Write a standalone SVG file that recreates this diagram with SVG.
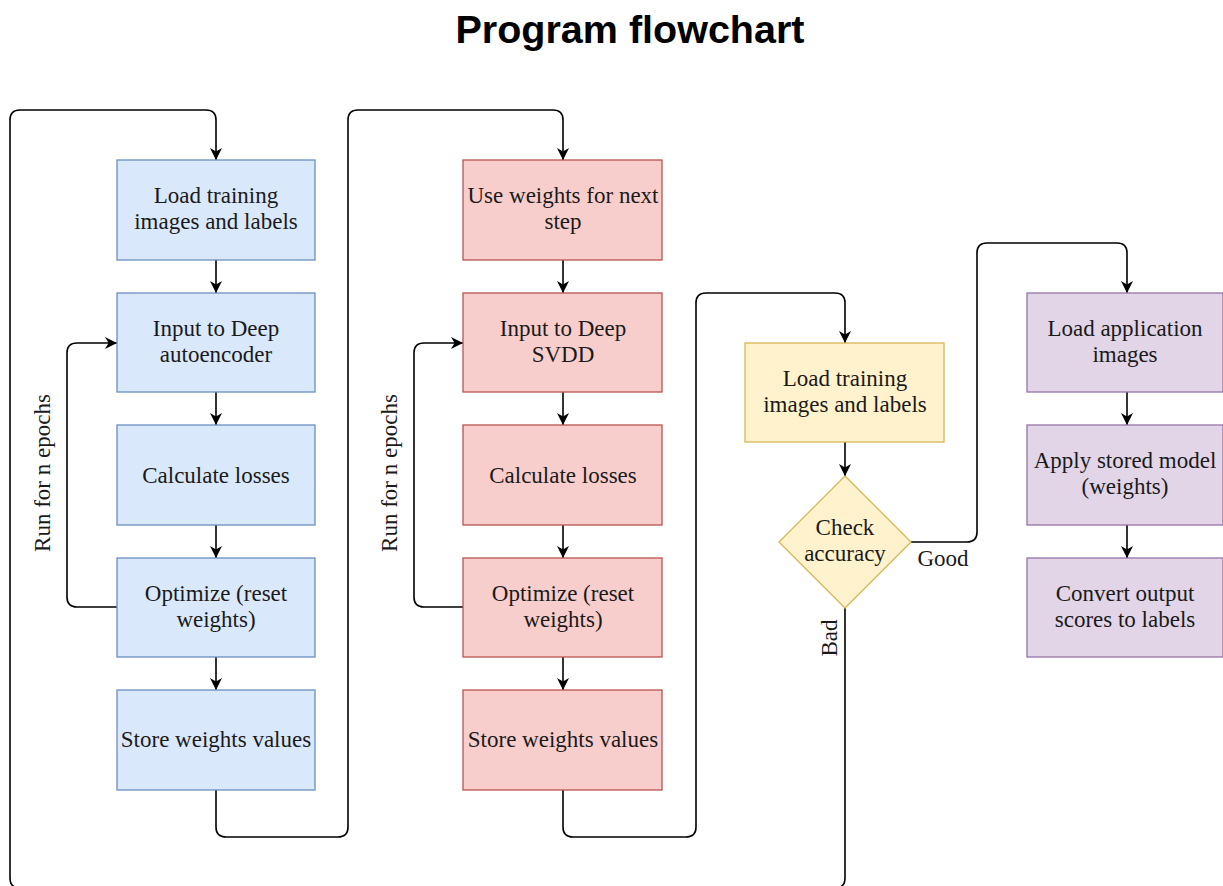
<svg xmlns="http://www.w3.org/2000/svg" width="1223" height="886" viewBox="0 0 1223 886">
<defs>
<style>
.t{font-family:"Liberation Serif",serif;font-size:23px;fill:#1a1a1a;text-anchor:middle}
.title{font-family:"Liberation Sans",Arial,sans-serif;font-size:39.5px;font-weight:bold;fill:#000;text-anchor:middle}
.c{fill:none;stroke:#000;stroke-width:1.6}
.blue{fill:#dae8fc;stroke:#6c8ebf;stroke-width:1.3}
.red{fill:#f8cecc;stroke:#b85450;stroke-width:1.3}
.yel{fill:#fff2cc;stroke:#d6b656;stroke-width:1.3}
.pur{fill:#e1d5e7;stroke:#9673a6;stroke-width:1.3}
</style>
<marker id="a" viewBox="0 0 10 10" refX="10" refY="5" markerWidth="12" markerHeight="12" markerUnits="userSpaceOnUse" orient="auto">
<path d="M0,0 L10,5 L0,10 L3,5 Z" fill="#000"/>
</marker>
</defs>
<rect width="1223" height="886" fill="#fff"/>
<text class="title" x="630" y="43">Program flowchart</text>

<g id="connectors">
<path class="c" marker-end="url(#a)" d="M845,608 V878 Q845,888 835,888 H20 Q10,888 10,878 V120 Q10,110 20,110 H206 Q216,110 216,120 V160"/>
<path class="c" marker-end="url(#a)" d="M216,260 V293"/>
<path class="c" marker-end="url(#a)" d="M216,392 V425"/>
<path class="c" marker-end="url(#a)" d="M216,525 V558"/>
<path class="c" marker-end="url(#a)" d="M216,657 V690"/>
<path class="c" marker-end="url(#a)" d="M117,607 H77 Q67,607 67,597 V353 Q67,343 77,343 H117"/>
<path class="c" marker-end="url(#a)" d="M216,790 V827 Q216,837 226,837 H338 Q348,837 348,827 V120 Q348,110 358,110 H553 Q563,110 563,120 V160"/>
<path class="c" marker-end="url(#a)" d="M563,260 V293"/>
<path class="c" marker-end="url(#a)" d="M563,392 V425"/>
<path class="c" marker-end="url(#a)" d="M563,525 V558"/>
<path class="c" marker-end="url(#a)" d="M563,657 V690"/>
<path class="c" marker-end="url(#a)" d="M463,607 H424 Q414,607 414,597 V353 Q414,343 424,343 H463"/>
<path class="c" marker-end="url(#a)" d="M563,790 V827 Q563,837 573,837 H686 Q696,837 696,827 V303 Q696,293 706,293 H835 Q845,293 845,303 V343"/>
<path class="c" marker-end="url(#a)" d="M845,442 V476"/>
<path class="c" marker-end="url(#a)" d="M911,542 H967 Q977,542 977,532 V253 Q977,243 987,243 H1117 Q1127,243 1127,253 V293"/>
<path class="c" marker-end="url(#a)" d="M1127,392 V425"/>
<path class="c" marker-end="url(#a)" d="M1127,525 V558"/>
<text class="t" x="42" y="481" transform="rotate(-90 42 473)">Run for n epochs</text>
<text class="t" x="389" y="481" transform="rotate(-90 389 473)">Run for n epochs</text>
<text class="t" x="943" y="566">Good</text>
<text class="t" x="829" y="646" transform="rotate(-90 829 638)">Bad</text>
</g>

<g id="b1"><rect class="blue" x="117" y="160" width="198" height="100"/><text class="t" x="216" y="203">Load training</text><text class="t" x="216" y="229">images and labels</text></g>
<g id="b2"><rect class="blue" x="117" y="293" width="198" height="99"/><text class="t" x="216" y="336">Input to Deep</text><text class="t" x="216" y="362">autoencoder</text></g>
<g id="b3"><rect class="blue" x="117" y="425" width="198" height="100"/><text class="t" x="216" y="483">Calculate losses</text></g>
<g id="b4"><rect class="blue" x="117" y="558" width="198" height="99"/><text class="t" x="216" y="601">Optimize (reset</text><text class="t" x="216" y="627">weights)</text></g>
<g id="b5"><rect class="blue" x="117" y="690" width="198" height="100"/><text class="t" x="216" y="747">Store weights values</text></g>

<g id="r1"><rect class="red" x="463" y="160" width="199" height="100"/><text class="t" x="563" y="203">Use weights for next</text><text class="t" x="563" y="229">step</text></g>
<g id="r2"><rect class="red" x="463" y="293" width="199" height="99"/><text class="t" x="563" y="336">Input to Deep</text><text class="t" x="563" y="362">SVDD</text></g>
<g id="r3"><rect class="red" x="463" y="425" width="199" height="100"/><text class="t" x="563" y="483">Calculate losses</text></g>
<g id="r4"><rect class="red" x="463" y="558" width="199" height="99"/><text class="t" x="563" y="601">Optimize (reset</text><text class="t" x="563" y="627">weights)</text></g>
<g id="r5"><rect class="red" x="463" y="690" width="199" height="100"/><text class="t" x="563" y="747">Store weights values</text></g>

<g id="y1"><rect class="yel" x="745" y="343" width="199" height="99"/><text class="t" x="845" y="386">Load training</text><text class="t" x="845" y="412">images and labels</text></g>
<g id="d1"><path class="yel" d="M845,476 L911,542 L845,608 L779,542 Z"/><text class="t" x="845" y="535">Check</text><text class="t" x="845" y="561">accuracy</text></g>

<g id="p1"><rect class="pur" x="1027" y="293" width="196" height="99"/><text class="t" x="1125" y="336">Load application</text><text class="t" x="1125" y="362">images</text></g>
<g id="p2"><rect class="pur" x="1027" y="425" width="196" height="100"/><text class="t" x="1125" y="468">Apply stored model</text><text class="t" x="1125" y="494">(weights)</text></g>
<g id="p3"><rect class="pur" x="1027" y="558" width="196" height="99"/><text class="t" x="1125" y="601">Convert output</text><text class="t" x="1125" y="627">scores to labels</text></g>
</svg>
